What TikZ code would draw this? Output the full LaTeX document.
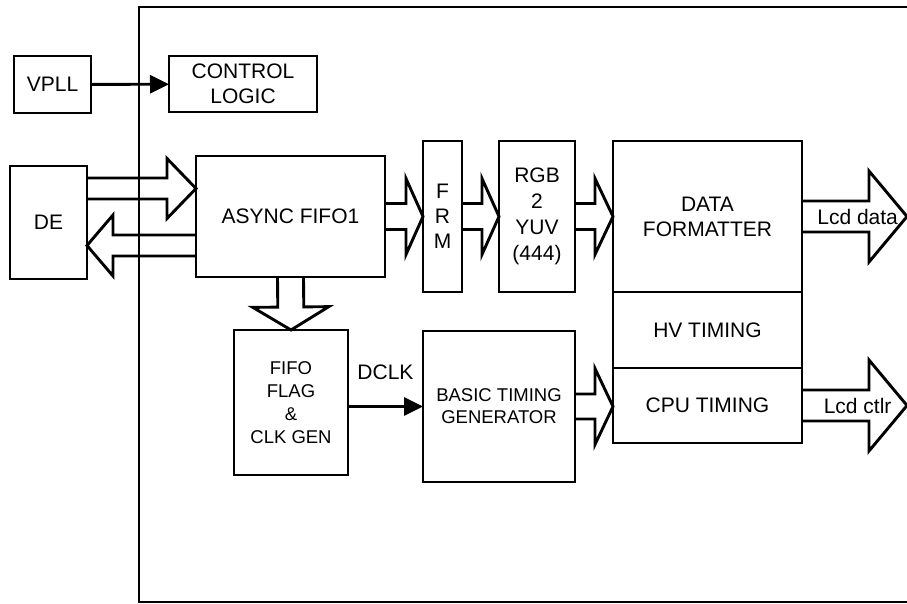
\documentclass[tikz,border=0pt]{standalone}
\usepackage{fontspec}
\setmainfont{Liberation Sans}
\usepackage{tikz}
\usetikzlibrary{arrows.meta, positioning, calc}
\tikzset{
    blk/.style={rectangle, draw, line width=2.9pt, inner sep=2pt,
                outer sep=0pt, align=center,
                font=\fontsize{21}{25}\selectfont},
    smallblk/.style={blk, font=\fontsize{18.5}{23}\selectfont},
    arr/.style={line width=2.9pt, -{Triangle[length=19pt, width=18pt]}},
    fat/.style={line width=2.9pt, line join=miter},
    frame/.style={line width=2.6pt},
    lbl/.style={inner sep=0pt, font=\fontsize{21}{25}\selectfont},
}
% wide bus arrow: from, tip, shaft half width, head half width, head length
\newcommand{\fatarrow}[5]{%
    \coordinate (fa-s) at (#1);
    \coordinate (fa-t) at (#2);
    \coordinate (fa-b) at ($(fa-t)!#5pt!(fa-s)$);
    \draw[fat] ($(fa-s)!#3pt!90:(fa-t)$) -- ($(fa-b)!#3pt!90:(fa-t)$)
        -- ($(fa-b)!#4pt!90:(fa-t)$) -- (fa-t)
        -- ($(fa-b)!#4pt!-90:(fa-t)$) -- ($(fa-b)!#3pt!-90:(fa-t)$)
        -- ($(fa-s)!#3pt!-90:(fa-t)$);
}

\begin{document}
\begin{tikzpicture}[x=1pt, y=-1pt]
    \useasboundingbox (0,0) rectangle (907,603);
    \clip (0,0) rectangle (907,603);

    % Chip outline
    \draw[frame] (920,7) -- (139,7) -- (139,602) -- (920,602);

    % Outside
    \node[blk, minimum width=77pt, minimum height=57pt] (vpll) at (52.5,84.5) {VPLL};
    \node[blk, minimum width=77pt, minimum height=113pt] (de) at (48.5,222.5) {DE};

    % Top row
    \node[blk, minimum width=148pt, minimum height=56pt] (ctrl) at (243,84) {CONTROL\\LOGIC};
    \node[blk, minimum width=189pt, minimum height=121pt] (fifo) at (290.5,216.5) {ASYNC FIFO1};
    \node[blk, minimum width=39pt, minimum height=151pt, right=38pt of fifo] (frm) {F\\R\\M};
    \node[blk, minimum width=76pt, minimum height=151pt, right=37pt of frm,
          font=\fontsize{21}{26}\selectfont] (rgb) {RGB\\2\\YUV\\(444)};
    \node[blk, minimum width=189pt, minimum height=151pt, right=38pt of rgb] (data) {DATA\\FORMATTER};
    \node[blk, minimum width=189pt, minimum height=76pt, below=0pt of data] (hv) {HV TIMING};
    \node[blk, minimum width=189pt, minimum height=75pt, below=0pt of hv] (cpu) {CPU TIMING};

    % Bottom row
    \node[smallblk, minimum width=114pt, minimum height=145pt] (flag) at (291,402.5) {FIFO\\FLAG\\\&\\CLK GEN};
    \node[smallblk, minimum width=152pt, minimum height=151pt, font=\fontsize{18.5}{22}\selectfont]
        (basic) at (499,406.5) {BASIC TIMING\\GENERATOR};

    % Free ends
    \coordinate (dein) at ([yshift=34pt]de.east);
    \coordinate (deout) at ([yshift=-23pt]de.east);
    \coordinate (dataout) at ([xshift=105pt]data.east);
    \coordinate (ctlrout) at ([xshift=105pt]cpu.east);

    % Thin arrows
    \draw[arr] (vpll) -- (ctrl);
    \draw[arr] (flag.east |- basic.west) -- node[lbl, above=25pt] (dclk) {DCLK} (basic.west);

    % Bus arrows
    \fatarrow{dein}{fifo.west |- dein}{10.5}{30}{29}
    \fatarrow{fifo.west |- deout}{deout}{10.5}{30.5}{26}
    \fatarrow{fifo.south}{flag.north}{13}{38}{23}
    \fatarrow{fifo.east}{frm.west}{13}{38}{17}
    \fatarrow{frm.east}{rgb.west}{13}{38}{17}
    \fatarrow{rgb.east}{data.west}{13}{38}{18}
    \fatarrow{basic.east}{cpu.west |- basic.east}{12.5}{38}{18}
    \fatarrow{data.east}{dataout}{15.5}{45.5}{38}
    \fatarrow{cpu.east}{ctlrout}{15.5}{45.5}{38}

    % Outputs
    \node[lbl] (lcddata) at ($(data.east)!0.53!(dataout)$) {Lcd data};
    \node[lbl] (lcdctlr) at ($(cpu.east)!0.53!(ctlrout)$) {Lcd ctlr};
\end{tikzpicture}
\end{document}
